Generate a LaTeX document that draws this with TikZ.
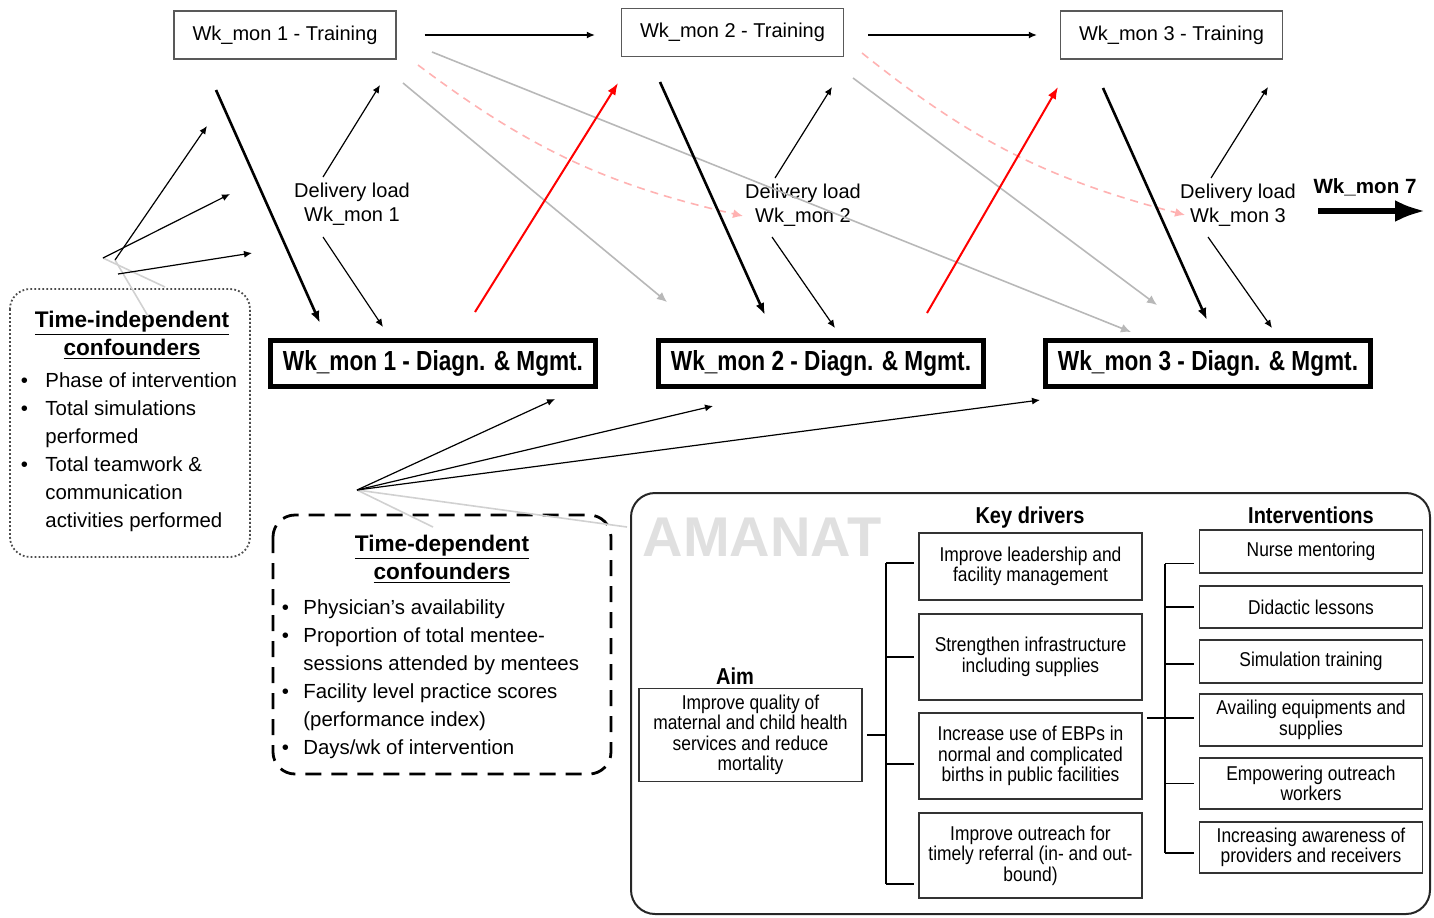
\documentclass[tikz,border=0pt]{standalone}
\usepackage{fontspec}
\setmainfont{Liberation Sans}
\newfontfamily\narrowsf{Liberation Sans}[FakeStretch=0.87]
\newfontfamily\condsf{Liberation Sans}[FakeStretch=0.82]
\usetikzlibrary{arrows,arrows.meta,shapes}

\begin{document}
\begin{tikzpicture}[x=0.5pt,y=-0.5pt,
  train/.style={draw=black!65,line width=0.7pt,minimum width=111pt,minimum height=24pt,inner sep=0pt,font=\fontsize{10}{12}\selectfont},
  diag/.style={draw,line width=2.5pt,minimum width=162.5pt,minimum height=23pt,inner sep=0pt,font=\condsf\bfseries\fontsize{13.8}{16}\selectfont},
  load/.style={align=center,inner sep=0pt,font=\fontsize{10}{12}\selectfont},
  heavyarrow/.style={-{Latex[length=6pt,width=4.5pt]},line width=1.3pt},
  thinarrow/.style={-{Latex[length=4pt,width=3.5pt]},line width=0.6pt},
  redarrow/.style={-{Latex[length=6pt,width=4.5pt]},line width=1pt,red},
  greyarrow/.style={-{Latex[length=5pt,width=4.5pt]},line width=0.8pt,black!28},
  pinkarrow/.style={-{Latex[length=5pt,width=4.5pt]},line width=0.8pt,red!30,dash pattern=on 4pt off 3pt},
  faint/.style={line width=0.8pt,black!18},
  pbox/.style={draw=black!80,line width=0.8pt,align=center,inner sep=1pt,minimum width=111.5pt,font=\narrowsf\fontsize{10}{10.2}\selectfont},
  phead/.style={inner sep=0pt,font=\narrowsf\bfseries\fontsize{11.5}{13}\selectfont},
  bracket/.style={line width=0.9pt},
  listing/.style={anchor=north west,inner sep=0pt,font=\fontsize{10.2}{14}\selectfont},
  ctitle/.style={align=center,inner sep=0pt,font=\bfseries\fontsize{11.3}{14}\selectfont}]
\useasboundingbox (0,0) rectangle (1434,917);

% weekly/monthly chain
\node[train] (T1) at (285,35) {Wk\_mon 1 - Training};
\node[train] (T2) at (732.5,32.5) {Wk\_mon 2 - Training};
\node[train] (T3) at (1171.5,35) {Wk\_mon 3 - Training};
\node[load] (DL1) at (352,204) {Delivery load\\Wk\_mon 1};
\node[load] (DL2) at (803,205) {Delivery load\\Wk\_mon 2};
\node[load] (DL3) at (1238,205) {Delivery load\\Wk\_mon 3};
\node[diag] (D1) at (433,363.5) {Wk\_mon 1 - Diagn. \& Mgmt.};
\node[diag] (D2) at (821,363.5) {Wk\_mon 2 - Diagn. \& Mgmt.};
\node[diag] (D3) at (1208,363.5) {Wk\_mon 3 - Diagn. \& Mgmt.};
\node[inner sep=0pt,font=\bfseries\fontsize{10.3}{12}\selectfont] (W7) at (1365,187) {Wk\_mon 7};

% free arrow ends
\foreach \n/\x/\y in {tkA1/216/90, tkB1/320/323, tkA2/660/82, tkB2/765/315, tkA3/1103/88, tkB3/1207/320,
    upA1/323/177, upB1/380/85, upA2/775/178, upB2/832/87, upA3/1211/178, upB3/1268/87,
    dnA1/323/237, dnB1/383/327, dnA2/772/237, dnB2/835/328, dnA3/1208/237, dnB3/1272/328,
    rdA1/475/312, rdB1/618/83, rdA2/927/313, rdB2/1058/87,
    gyA1/403/83, gyB1/667/302, gyA2/432/52, gyB2/1131/332, gyA3/853/78, gyB3/1157/305,
    pkA1/418/65, pkB1/743/216, pkA2/862/53, pkB2/1185/215,
    w7A/1318/211, w7B/1425/211}
  \coordinate (\n) at (\x,\y);

\draw[thinarrow,shorten <=14pt,shorten >=13pt] (T1.east) -- (T1.east -| T2.west);
\draw[thinarrow,shorten <=12pt,shorten >=11.5pt] (T2.east |- T3.west) -- (T3.west);
\foreach \i in {1,2,3}
  \draw[greyarrow] (gyA\i) -- (gyB\i);
\foreach \i in {1,2} {
  \draw[pinkarrow] (pkA\i) to[bend right=12] (pkB\i);
  \draw[redarrow] (rdA\i) -- (rdB\i);
}
\foreach \i in {1,2,3} {
  \draw[heavyarrow] (tkA\i) -- (tkB\i);
  \draw[thinarrow] (upA\i) -- (upB\i);
  \draw[thinarrow] (dnA\i) -- (dnB\i);
}
\draw[-{Latex[length=15pt,width=11pt]},line width=2.6pt] (w7A) -- (w7B);

% time-independent confounders
\draw[black!70,line width=0.9pt,dash pattern=on 0.9pt off 1.1pt,rounded corners=10pt] (10,289) rectangle (250,557);
\node[ctitle] (tiTitle) at (132,335) {\underline{Time-independent}\\\underline{confounders}};
\node[listing] (tiList) at (20.5,367) {\begin{tabular}{@{}l@{\hspace{8.7pt}}l@{}}
  \textbullet & Phase of intervention\\
  \textbullet & Total simulations\\
              & performed\\
  \textbullet & Total teamwork \&\\
              & communication\\
              & activities performed
  \end{tabular}};
\foreach \n/\x/\y in {fanA/115/260, fanB/103/258, fanC/118/274, fanT1/207/126, fanT2/230/194, fanT3/252/253,
    fadeA/165/287, fadeB/148/316}
  \coordinate (\n) at (\x,\y);
\draw[faint] (fanB) -- (fadeA);
\draw[faint] (fanA) -- (fadeB);
\draw[thinarrow] (fanA) -- (fanT1);
\draw[thinarrow] (fanB) -- (fanT2);
\draw[thinarrow] (fanC) -- (fanT3);

% time-dependent confounders
\draw[line width=1.4pt,dash pattern=on 8pt off 5pt,rounded corners=11pt] (273,515) rectangle (611,774);
\node[ctitle] (tdTitle) at (442,559) {\underline{Time-dependent}\\\underline{confounders}};
\node[listing] (tdList) at (281.5,594) {\begin{tabular}{@{}l@{\hspace{7.2pt}}l@{}}
  \textbullet & Physician’s availability\\
  \textbullet & Proportion of total mentee-\\
              & sessions attended by mentees\\
  \textbullet & Facility level practice scores\\
              & (performance index)\\
  \textbullet & Days/wk of intervention
  \end{tabular}};
\foreach \n/\x/\y in {tdO/357/490, tdT1/555/399, tdT2/713/406, tdT3/1040/400, fadeC/433/527, fadeD/627/527}
  \coordinate (\n) at (\x,\y);
\draw[faint] (tdO) -- (fadeC);
\draw[faint] (tdO) -- (fadeD);
\draw[thinarrow] (tdO) -- (tdT1);
\draw[thinarrow] (tdO) -- (tdT2);
\draw[thinarrow] (tdO) -- (tdT3);

% driver diagram
\draw[black!85,line width=1pt,rounded corners=12pt] (631,493) rectangle (1430,914);
\node[inner sep=0pt,text=black!12,font=\bfseries\fontsize{28}{30}\selectfont] (wmark) at (762,537) {AMANAT};
\node[phead] (hAim) at (735,676) {Aim};
\node[phead] (hKey) at (1030,518) {Key drivers};
\node[phead] (hInt) at (1311,515) {Interventions};
\node[pbox,minimum height=46.5pt] (Aim) at (750.5,735) {Improve quality of\\maternal and child health\\services and reduce\\mortality};
\node[pbox,minimum height=33.5pt] (K1) at (1030.5,566.5) {Improve leadership and\\facility management};
\node[pbox,minimum height=43pt] (K2) at (1030.5,657) {Strengthen infrastructure\\including supplies};
\node[pbox,minimum height=43pt] (K3) at (1030.5,756) {Increase use of EBPs in\\normal and complicated\\births in public facilities};
\node[pbox,minimum height=42.5pt] (K4) at (1030.5,855.5) {Improve outreach for\\timely referral (in- and out-\\bound)};
\node[pbox,minimum height=21.5pt] (I1) at (1311,551.5) {Nurse mentoring};
\node[pbox,minimum height=21pt] (I2) at (1311,607) {Didactic lessons};
\node[pbox,minimum height=21.5pt] (I3) at (1311,661.5) {Simulation training};
\node[pbox,minimum height=26pt] (I4) at (1311,720) {Availing equipments and\\supplies};
\node[pbox,minimum height=25.5pt] (I5) at (1311,783.5) {Empowering outreach\\workers};
\node[pbox,minimum height=25.5pt] (I6) at (1311,847.5) {Increasing awareness of\\providers and receivers};

\coordinate (spL) at (886,0);
\coordinate (spR) at (1165,0);
\foreach \k/\s in {K1/1.75,K2/0,K3/-4,K4/-14.25}
  \coordinate (t\k) at ([yshift=\s pt]\k.west);
\foreach \k/\s in {I1/-6,I2/0,I3/-1.25,I4/1,I5/0,I6/-2.75}
  \coordinate (t\k) at ([yshift=\s pt]\k.west);
\draw[bracket,shorten <=2pt] (Aim.east) -- (Aim.east -| spL);
\draw[bracket] (tK1 -| spL) -- (tK4 -| spL);
\foreach \k in {K1,K2,K3,K4}
  \draw[bracket,shorten >=2pt] (t\k -| spL) -- (t\k);
\draw[bracket,shorten <=2pt] (tI4 -| K3.east) -- (tI4 -| spR);
\draw[bracket] (tI1 -| spR) -- (tI6 -| spR);
\foreach \k in {I1,I2,I3,I4,I5,I6}
  \draw[bracket,shorten >=2.5pt] (t\k -| spR) -- (t\k);
\end{tikzpicture}
\end{document}
